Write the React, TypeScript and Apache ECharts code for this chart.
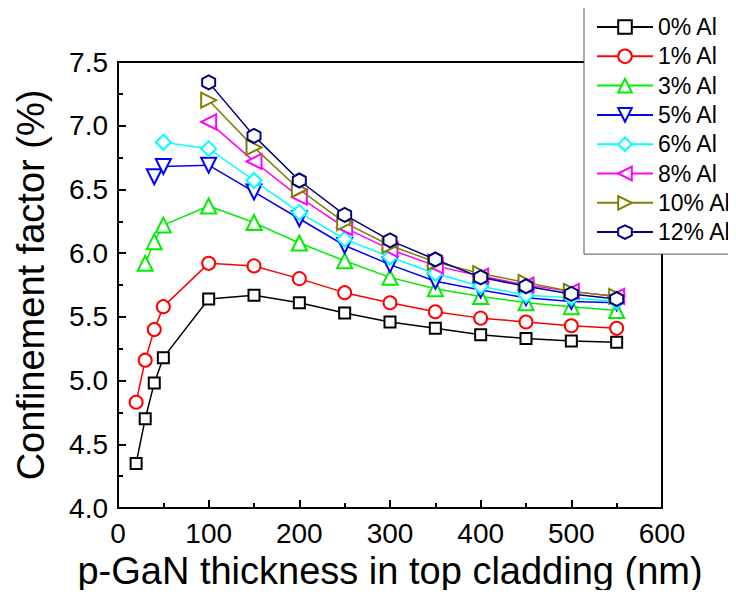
import React, { useEffect, useRef } from "react";
import * as echarts from "echarts";

const thickness = [20, 30, 40, 50, 100, 150, 200, 250, 300, 350, 400, 450, 500, 550];
const al0 = [4.35, 4.7, 4.98, 5.18, 5.64, 5.67, 5.61, 5.53, 5.46, 5.41, 5.36, 5.33, 5.31, 5.3];
const al1 = [4.83, 5.16, 5.4, 5.58, 5.92, 5.9, 5.8, 5.69, 5.61, 5.54, 5.49, 5.46, 5.43, 5.41];
const al3 = [null, 5.92, 6.09, 6.22, 6.37, 6.24, 6.08, 5.94, 5.81, 5.72, 5.66, 5.61, 5.58, 5.55];
const al5 = [null, null, 6.6, 6.68, 6.69, 6.48, 6.27, 6.06, 5.91, 5.78, 5.71, 5.65, 5.62, 5.61];
const al6 = [null, null, null, 6.87, 6.82, 6.57, 6.32, 6.11, 5.97, 5.84, 5.74, 5.67, 5.65, 5.62];
const al8 = [null, null, null, null, 7.03, 6.72, 6.44, 6.2, 6.03, 5.9, 5.82, 5.75, 5.7, 5.66];
const al10 = [null, null, null, null, 7.2, 6.83, 6.5, 6.24, 6.06, 5.93, 5.84, 5.77, 5.7, 5.66];
const al12 = [null, null, null, null, 7.34, 6.92, 6.57, 6.3, 6.1, 5.95, 5.81, 5.74, 5.68, 5.64];

const seriesNames = ["0% Al", "1% Al", "3% Al", "5% Al", "6% Al", "8% Al", "10% Al", "12% Al"];
const seriesValues = [al0, al1, al3, al5, al6, al8, al10, al12];
const seriesColors = ["#000000", "#ff0000", "#00ee00", "#0000ff", "#00ffff", "#ff00ff", "#808000", "#000080"];

const hexPath = "path://M0,-1 L0.866,-0.5 L0.866,0.5 L0,1 L-0.866,0.5 L-0.866,-0.5 Z";
const symbols = ["rect", "circle", "triangle", "triangle", "diamond", "triangle", "triangle", hexPath];
const rotations = [0, 0, 0, 180, 0, 90, -90, 0];
const sizes: any[] = [11, 13, 15, 15, 15, 15, 15, [13, 14]];

const FONT = "'Liberation Sans', Arial, sans-serif";

export default function App() {
  const ref = useRef<HTMLDivElement>(null);
  useEffect(() => {
    if (!ref.current) return;
    const chart = echarts.init(ref.current, null, { renderer: "svg" });
    const series = seriesNames.map((name, i) => ({
      name,
      type: "line",
      data: thickness
        .map((x, j) => [x, seriesValues[i][j]])
        .filter((p) => p[1] !== null),
      symbol: symbols[i],
      symbolRotate: rotations[i],
      symbolSize: sizes[i],
      showAllSymbol: true,
      lineStyle: { color: seriesColors[i], width: 1.5 },
      itemStyle: { color: "#ffffff", borderColor: seriesColors[i], borderWidth: 2 },
      emphasis: { disabled: true },
      z: 2 + i,
    }));
    chart.setOption({
      animation: false,
      backgroundColor: "#ffffff",
      grid: {
        left: 118,
        right: 74,
        top: 62,
        bottom: 90,
        show: true,
        borderColor: "#000",
        borderWidth: 2,
        backgroundColor: "transparent",
      },
      legend: {
        left: 584,
        top: 4,
        orient: "vertical",
        data: seriesNames,
        itemWidth: 56,
        itemHeight: 17,
        itemGap: 5.3,
        padding: [11, 14, 10, 12],
        backgroundColor: "#ffffff",
        borderColor: "#555555",
        borderWidth: 1,
        borderRadius: 0,
        textStyle: { fontFamily: FONT, fontSize: 23, color: "#000", lineHeight: 24 },
        z: 20,
      },
      xAxis: {
        type: "value",
        min: 0,
        max: 600,
        interval: 100,
        name: "p-GaN thickness in top cladding (nm)",
        nameLocation: "middle",
        nameGap: 43,
        nameTextStyle: { fontFamily: FONT, fontSize: 38, color: "#000" },
        axisLine: { show: true, lineStyle: { color: "#000", width: 2 } },
        axisTick: { show: true, inside: true, length: 8, lineStyle: { color: "#000", width: 2 } },
        minorTick: { show: true, splitNumber: 2, length: 5, lineStyle: { color: "#000", width: 2 } },
        splitLine: { show: false },
        axisLabel: { fontFamily: FONT, fontSize: 28, color: "#000", margin: 11 },
      },
      yAxis: {
        type: "value",
        min: 4.0,
        max: 7.5,
        interval: 0.5,
        name: "Confinement factor (%)",
        nameLocation: "middle",
        nameGap: 68,
        nameRotate: 90,
        nameTextStyle: { fontFamily: FONT, fontSize: 38, color: "#000" },
        axisLine: { show: true, lineStyle: { color: "#000", width: 2 } },
        axisTick: { show: true, inside: true, length: 8, lineStyle: { color: "#000", width: 2 } },
        minorTick: { show: true, splitNumber: 2, length: 5, lineStyle: { color: "#000", width: 2 } },
        splitLine: { show: false },
        axisLabel: {
          fontFamily: FONT,
          fontSize: 28,
          color: "#000",
          margin: 10,
          formatter: (v: number) => v.toFixed(1),
        },
      },
      series,
    });
    return () => chart.dispose();
  }, []);
  return <div ref={ref} style={{ width: 736, height: 598, margin: -8 }} />;
}
